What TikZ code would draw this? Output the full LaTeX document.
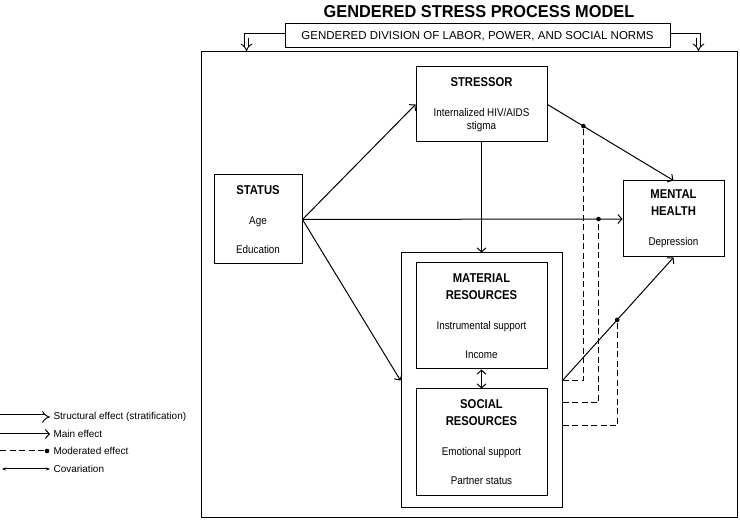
\documentclass[tikz,border=0pt]{standalone}
\usepackage{fontspec}
\setmainfont{Liberation Sans}
\newfontfamily\narrowfont[FakeStretch=0.88]{Liberation Sans}
\newfontfamily\titlefont[FakeStretch=0.95]{Liberation Sans}
\usetikzlibrary{arrows.meta,positioning}

\newcommand{\boxhead}[1]{{\fontsize{12.8}{15}\selectfont\bfseries #1}}

\begin{document}
\begin{tikzpicture}[x=1pt,y=-1pt,
  box/.style={draw,line width=1pt,align=center,inner sep=0pt,font=\narrowfont\fontsize{11.2}{13}\selectfont},
  main/.style={line width=1pt,-{Straight Barb[length=4pt,width=9pt]}},
  structural/.style={double,double distance=3.2pt,line width=.9pt,-{Implies[scale=1.2]}},
  moderated/.style={line width=1pt,dash pattern=on 6pt off 3.5pt},
  cov/.style={line width=1pt,{Straight Barb[length=4pt,width=9pt]}-{Straight Barb[length=4pt,width=9pt]}},
  legend/.style={anchor=west,font=\fontsize{10}{12}\selectfont}]
\useasboundingbox (0,0) rectangle (740,521);

% frame, title and norms
\node[draw,line width=1pt,minimum width=536pt,minimum height=466pt,inner sep=0pt] (frame) at (469,285) {};
\node[font=\titlefont\fontsize{17.2}{20}\selectfont\bfseries] (title) at (479,12) {GENDERED STRESS PROCESS MODEL};
\node[draw,line width=1pt,minimum width=385pt,minimum height=24pt,inner sep=0pt,font=\fontsize{11.5}{14}\selectfont] (norms) at (477.5,36) {GENDERED DIVISION OF LABOR, POWER, AND SOCIAL NORMS};
\draw[structural] (norms.west) -| ([xshift=46pt]frame.north west);
\draw[structural] (norms.east) -| ([xshift=-39pt]frame.north east);

% boxes
\node[box,minimum width=88pt,minimum height=89pt] (status) at (258,219.5)
  {\boxhead{STATUS}\\[17pt] Age\\[16pt] Education};
\node[box,minimum width=131pt,minimum height=75pt] (stressor) at (481.5,104.5)
  {\boxhead{STRESSOR}\\[17pt] Internalized HIV/AIDS\\ stigma};
\node[box,minimum width=101pt,minimum height=76pt] (mental) at (673.5,219)
  {\boxhead{MENTAL}\\[4pt] \boxhead{HEALTH}\\[17pt] Depression};
\node[box,minimum width=161pt,minimum height=255pt] (resources) at (481.5,380.5) {};
\node[box,minimum width=131pt,minimum height=106pt] (material) at (481.5,316)
  {\boxhead{MATERIAL}\\[4pt] \boxhead{RESOURCES}\\[17pt] Instrumental  support\\[16pt] Income};
\node[box,minimum width=131pt,minimum height=107pt,below=19pt of material] (social)
  {\boxhead{SOCIAL}\\[4pt] \boxhead{RESOURCES}\\[17pt] Emotional support\\[16pt] Partner status};

% effects
\draw[main] (status.east) -- (stressor.west);
\draw[main] (status.east) -- coordinate[pos=.925] (mod2) (mental.west);
\draw[main] (status.east) -- (resources.west);
\draw[main] (stressor.south) -- (resources.north);
\draw[main] (stressor.east) -- coordinate[pos=.285] (mod1) (mental.north);
\draw[main] (resources.east) -- coordinate[pos=.493] (mod3) (mental.south);
\draw[cov] (material) -- (social);

% moderation
\draw[moderated] (resources.east) -| (mod1);
\draw[moderated] ([yshift=-22.5pt]resources.east) -| (mod2);
\draw[moderated] ([yshift=-45.5pt]resources.east) -| (mod3);
\foreach \m in {mod1,mod2,mod3} \fill (\m) circle (2.3pt);

% legend
\coordinate (lk1) at (0,417);
\coordinate (lk2) at (0,434);
\coordinate (lk3) at (0,451);
\coordinate (lk4) at (2,469);
\node[legend] (lstruct) at (50,417) {Structural  effect (stratification)};
\node[legend] (lmain) at (50,434) {Main effect};
\node[legend] (lmod) at (50,451) {Moderated effect};
\node[legend] (lcov) at (50,469) {Covariation};
\draw[structural] (lk1) -- (lstruct.west);
\draw[main] (lk2) -- (lmain.west);
\draw[moderated] (lk3) -- ([xshift=-3pt]lmod.west);
\fill ([xshift=-3pt]lmod.west) circle (2.3pt);
\draw[line width=1pt,{Stealth[length=4pt]}-{Stealth[length=4pt]}] (lk4) -- (lcov.west);
\end{tikzpicture}
\end{document}
